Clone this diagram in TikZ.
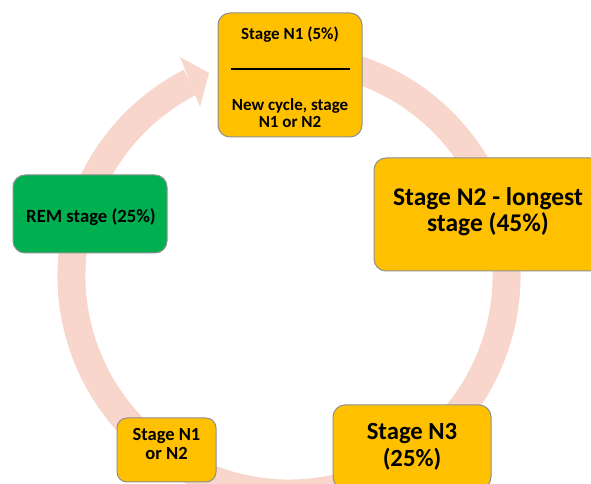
\documentclass[tikz,border=0pt]{standalone}
\usepackage{fontspec}
\setmainfont{Carlito}
\definecolor{ringpink}{HTML}{F8D6CC}
\definecolor{boxgold}{HTML}{FFC000}
\definecolor{boxgreen}{HTML}{00B050}
\definecolor{boxedge}{HTML}{8F8F8F}
\begin{document}
\begin{tikzpicture}[x=1pt,y=1pt,
  stagebox/.style={draw=boxedge,line width=1pt,fill=boxgold,rounded corners=12pt,minimum width=#1,inner sep=0pt},
  lbl/.style={align=center,inner sep=0pt,text=black,font={\bfseries\fontsize{#1}{#1}\selectfont}}]
\useasboundingbox (0,0) rectangle (591,484);
% ring arrow
\coordinate (cc) at (289,208);
\draw[ringpink,line width=28pt] ([shift={(72:217.5)}]cc) arc[start angle=72,end angle=-243,radius=217.5];
\coordinate (hA) at (180,427);
\coordinate (hB) at (209,411);
\coordinate (hC) at (200,377);
\fill[ringpink] (hA) -- (hB) -- (hC) -- cycle;
% top box
\node[stagebox=144pt,minimum height=124pt] (top) at (290,409) {};
\node[lbl=17,anchor=base] (topa) at (290,444) {Stage N1 (5\%)};
\coordinate (la) at (231,415);
\coordinate (lb) at (350,415);
\draw[line width=1.4pt] (la) -- (lb);
\node[lbl=17] (topb) at (290,371) {New cycle, stage\\N1 or N2};
% REM
\node[stagebox=154pt,minimum height=78pt,fill=boxgreen] (rem) at (90,270) {};
\node[lbl=18.7,anchor=base] (remt) at (91,261) {REM stage (25\%)};
% N2
\node[stagebox=228pt,minimum height=113pt] (n2) at (488,269.5) {};
\node[lbl=25.5,font={\bfseries\fontsize{25.5}{26}\selectfont}] (n2t) at (488,272.5) {Stage N2 - longest\\stage (45\%)};
% N3
\node[stagebox=158pt,minimum height=84pt] (n3) at (412,37) {};
\node[lbl=24.7,font={\bfseries\fontsize{24.7}{27}\selectfont}] (n3t) at (412,37) {Stage N3\\(25\%)};
% small N1 or N2
\node[stagebox=99pt,minimum height=64pt,rounded corners=10pt] (sm) at (166.5,34) {};
\node[lbl=18.5,font={\bfseries\fontsize{18.5}{19}\selectfont}] (smt) at (166.5,39.5) {Stage N1\\or N2};
\end{tikzpicture}
\end{document}
